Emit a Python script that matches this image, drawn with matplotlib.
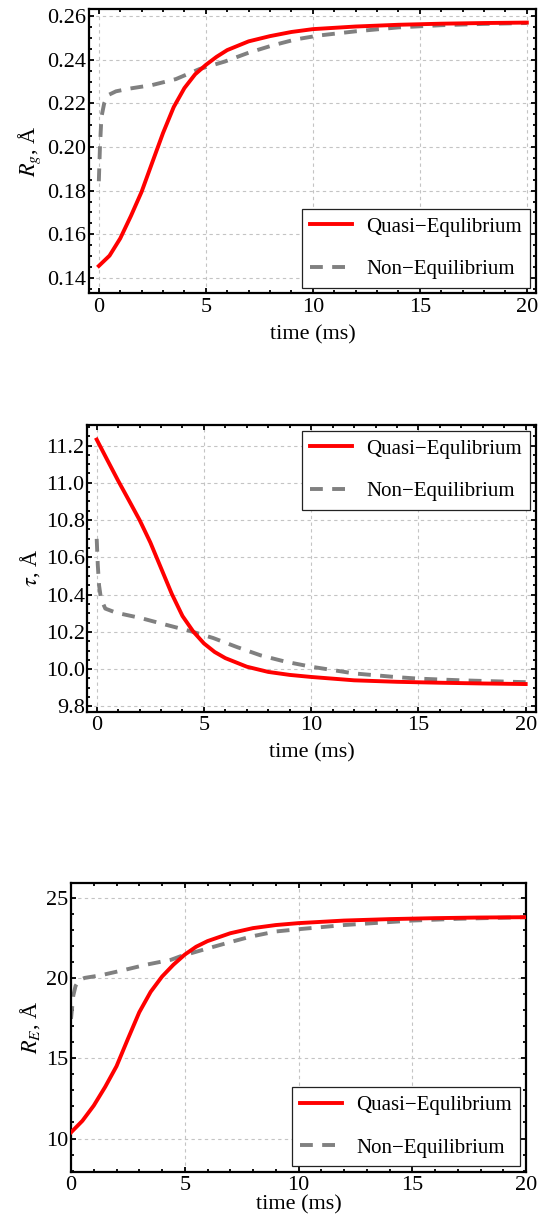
import matplotlib
matplotlib.use("Agg")
from matplotlib import pyplot as plt
from matplotlib.ticker import MultipleLocator

plt.rcParams['font.family'] = ['Liberation Serif', 'DejaVu Serif']
plt.rcParams['mathtext.fontset'] = 'stix'

# ---- data ----
t_qe = [0, 0.5, 1, 1.5, 2, 2.5, 3, 3.5, 4, 4.5, 5, 5.5, 6, 7, 8, 9, 10, 12, 14, 16, 18, 20]

rg_qe = [0.1455, 0.1502, 0.1581, 0.1684, 0.1795, 0.1930, 0.2064, 0.2183, 0.2270, 0.2333,
         0.2376, 0.2413, 0.2444, 0.2484, 0.2508, 0.2527, 0.2540, 0.2552, 0.2560, 0.2565,
         0.2568, 0.2570]
t_rg_ne = [0, 0.05, 0.12, 0.25, 0.44, 0.8, 1.4, 2.5, 3.6, 4.7, 5.9, 7, 8.1, 9.2, 10.3,
           12, 14, 16, 18, 20]
rg_ne = [0.1843, 0.1993, 0.2136, 0.2200, 0.2238, 0.2255, 0.2267, 0.2284, 0.2311, 0.2357,
         0.2392, 0.2432, 0.2465, 0.2493, 0.2511, 0.2530, 0.2548, 0.2558, 0.2564, 0.2568]

tau_qe = [11.232, 11.121, 11.011, 10.906, 10.800, 10.680, 10.542, 10.404, 10.285, 10.202,
          10.138, 10.092, 10.059, 10.013, 9.985, 9.969, 9.958, 9.940, 9.932, 9.927, 9.923,
          9.920]
t_tau_ne = [0, 0.05, 0.11, 0.2, 0.4, 0.9, 2.06, 3.2, 4.43, 5.43, 6.55, 7.64, 8.8, 10, 12,
            14, 15, 17, 20]
tau_ne = [10.699, 10.560, 10.450, 10.377, 10.325, 10.303, 10.274, 10.239, 10.202, 10.167,
          10.118, 10.074, 10.040, 10.013, 9.977, 9.957, 9.949, 9.940, 9.930]

re_qe = [10.38, 11.10, 12.05, 13.21, 14.50, 16.20, 17.86, 19.13, 20.08, 20.82, 21.45, 21.94,
         22.29, 22.78, 23.10, 23.29, 23.41, 23.57, 23.66, 23.72, 23.76, 23.78]
t_re_ne = [0, 0.1, 0.2, 0.35, 0.6, 1.3, 2.3, 3.3, 4.4, 4.8, 5.85, 6.9, 7.9, 9, 10, 12, 15,
           17, 20]
re_ne = [17.45, 18.90, 19.50, 19.85, 20.00, 20.16, 20.48, 20.82, 21.13, 21.34, 21.77, 22.19,
         22.57, 22.89, 23.03, 23.29, 23.57, 23.68, 23.78]

labels = ['Quasi\u2212Equlibrium', 'Non\u2212Equilibrium']


def setupAxis(ax, xlim, ylim, ymajor, yminor, ylabel, xlabelpad=6):
    ax.set_xlim(*xlim)
    ax.set_ylim(*ylim)
    ax.xaxis.set_major_locator(MultipleLocator(5))
    ax.xaxis.set_minor_locator(MultipleLocator(1))
    ax.yaxis.set_major_locator(MultipleLocator(ymajor))
    ax.yaxis.set_minor_locator(MultipleLocator(yminor))
    ax.tick_params(which='both', direction='in', top=True, right=True, labelsize=16,
                   width=1.3)
    ax.tick_params(axis='x', pad=3)
    ax.tick_params(axis='y', pad=2)
    ax.tick_params(which='major', length=3.5)
    ax.tick_params(which='minor', length=2)
    for s in ax.spines.values():
        s.set_linewidth(1.6)
    ax.grid(True, which='major', color='#c4c4c4', linestyle=(0, (3, 3)), linewidth=0.8)
    ax.set_axisbelow(True)
    ax.set_xlabel('time (ms)', fontsize=16, labelpad=xlabelpad)
    ax.set_ylabel(ylabel, fontsize=16, labelpad=3)


def drawPanel(ax, t1, y1, t2, y2, loc):
    ax.plot(t1, y1, color='#ff0000', linewidth=2.8, label=labels[0], zorder=3,
            solid_joinstyle='round')
    ax.plot(t2, y2, color='#808080', linewidth=2.8, dashes=(3.3, 2.4), label=labels[1],
            zorder=2)
    leg = ax.legend(loc=loc, fontsize=15, fancybox=False, framealpha=1, edgecolor='#222222',
                    borderaxespad=0.28, labelspacing=1.1, handlelength=2.0,
                    handletextpad=0.7, borderpad=0.4)
    leg.get_frame().set_linewidth(0.9)


fig = plt.figure(figsize=(5.38, 12.15), dpi=100)

ax1 = fig.add_axes([0.1658, 0.7585, 0.8305, 0.2344])
drawPanel(ax1, t_qe, rg_qe, t_rg_ne, rg_ne, 'lower right')
setupAxis(ax1, (-0.45, 20.43), (0.1329, 0.2634), 0.02, 0.005, '$R_g$, Å')

ax2 = fig.add_axes([0.1626, 0.4143, 0.8336, 0.2359])
drawPanel(ax2, t_qe, tau_qe, t_tau_ne, tau_ne, 'upper right')
setupAxis(ax2, (-0.43, 20.48), (9.772, 11.31), 0.2, 0.05, '$\\tau$, Å')

ax3 = fig.add_axes([0.1320, 0.0356, 0.8457, 0.2378])
drawPanel(ax3, t_qe, re_qe, t_re_ne, re_ne, 'lower right')
setupAxis(ax3, (0, 20), (7.93, 25.92), 5, 1, '$R_E$, Å', xlabelpad=0)

plt.savefig('out.png', dpi=100)
